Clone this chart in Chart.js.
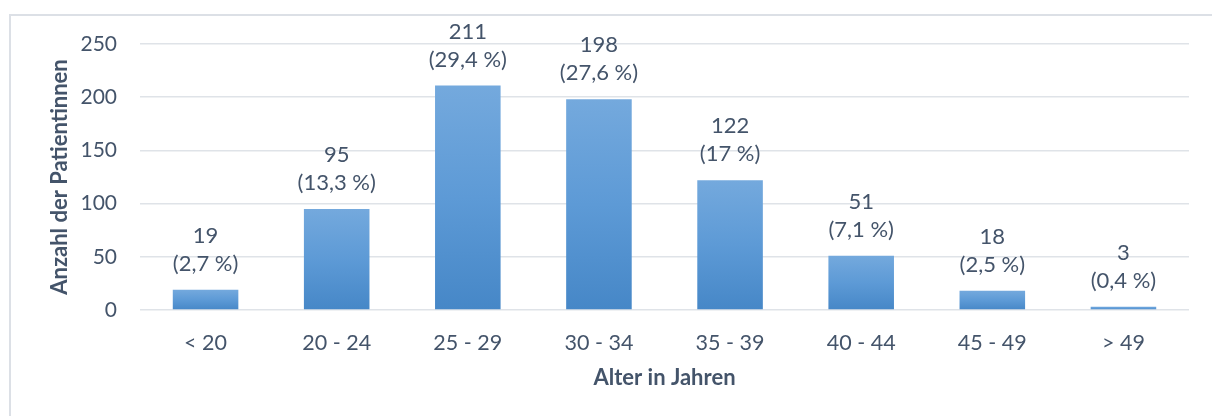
<!DOCTYPE html>
<html lang="de">

<head>
    <meta charset="UTF-8">
    <title>Altersverteilung</title>
    <script src="https://cdn.jsdelivr.net/npm/chart.js"></script>
    <style>
        html, body { margin: 0; padding: 0; background: #fff; overflow: hidden; }
        #rahmen {
            position: absolute; left: 9px; top: 14px;
            width: 1400px; height: 600px;
            border: 2px solid #dce0e6;
        }
        #wrap { position: absolute; left: 0; top: 0; width: 1212px; height: 416px; }
    </style>
</head>

<body>
    <div id="rahmen"></div>
    <div id="wrap"><canvas id="alter"></canvas></div>

<script>
    // Altersgruppen und Anzahl der Patientinnen
    const gruppen = ['< 20', '20 - 24', '25 - 29', '30 - 34', '35 - 39', '40 - 44', '45 - 49', '> 49'];
    const anzahl = [19, 95, 211, 198, 122, 51, 18, 3];
    const anteile = ['2,7', '13,3', '29,4', '27,6', '17', '7,1', '2,5', '0,4'];
    const yTicks = [0, 50, 100, 150, 200, 250];

    const textFarbe = '#44546a';
    const schrift = 'Lato, "Open Sans", sans-serif';

    // Balken bekommen einen eigenen Verlauf von hell (oben) nach dunkel (unten)
    function balkenFarbe(ctx) {
        const chart = ctx.chart;
        const y = chart.scales.y;
        if (!y || ctx.raw === undefined) return '#5b9bd5';
        const oben = y.getPixelForValue(ctx.raw);
        const unten = y.getPixelForValue(0);
        if (!isFinite(oben) || !isFinite(unten) || oben === unten) return '#5b9bd5';
        const g = chart.ctx.createLinearGradient(0, oben, 0, unten);
        g.addColorStop(0, '#74a9dd');
        g.addColorStop(0.5, '#5d9ad6');
        g.addColorStop(1, '#4687c7');
        return g;
    }

    // Wert und Anteil über jedem Balken
    const wertBeschriftung = {
        id: 'wertBeschriftung',
        afterDatasetsDraw(chart) {
            const ctx = chart.ctx;
            const meta = chart.getDatasetMeta(0);
            ctx.save();
            ctx.fillStyle = textFarbe;
            ctx.font = '22px ' + schrift;
            ctx.textAlign = 'center';
            ctx.textBaseline = 'middle';
            meta.data.forEach(function (bar, i) {
                ctx.fillText(String(anzahl[i]), bar.x, bar.y - 54);
                ctx.fillText('(' + anteile[i] + ' %)', bar.x, bar.y - 26);
            });
            ctx.restore();
        }
    };

    new Chart(document.getElementById('alter'), {
        type: 'bar',
        data: {
            labels: gruppen,
            datasets: [{
                label: 'Anzahl der Patientinnen',
                data: anzahl,
                backgroundColor: balkenFarbe,
                borderWidth: 0,
                barPercentage: 1,
                categoryPercentage: 0.5
            }]
        },
        options: {
            responsive: true,
            maintainAspectRatio: false,
            animation: false,
            layout: { padding: { top: 44, right: 23, left: 10, bottom: 0 } },
            plugins: {
                legend: { display: false },
                tooltip: { enabled: false }
            },
            scales: {
                x: {
                    afterFit: function (s) { s.height = 106; },
                    grid: { display: false },
                    border: { display: false },
                    ticks: {
                        color: textFarbe,
                        font: { family: schrift, size: 21.5 },
                        padding: 12,
                        maxRotation: 0
                    },
                    title: {
                        display: true,
                        text: 'Alter in Jahren',
                        color: textFarbe,
                        font: { family: schrift, size: 22, weight: 'bold' },
                        padding: { top: 0, bottom: 25 }
                    }
                },
                y: {
                    min: 0,
                    max: 250,
                    afterFit: function (s) { s.width = 130; },
                    afterBuildTicks: function (s) { s.ticks = yTicks.map(v => ({ value: v })); },
                    grid: { color: '#dfe3e8', lineWidth: 1.5, drawTicks: false },
                    border: { display: false },
                    ticks: {
                        color: textFarbe,
                        font: { family: schrift, size: 21 },
                        padding: 23
                    },
                    title: {
                        display: true,
                        text: 'Anzahl der Patientinnen',
                        color: textFarbe,
                        font: { family: schrift, size: 22, weight: 'bold' },
                        padding: { top: 37, bottom: 0 }
                    }
                }
            }
        },
        plugins: [wertBeschriftung]
    });
</script>
</body>

</html>
